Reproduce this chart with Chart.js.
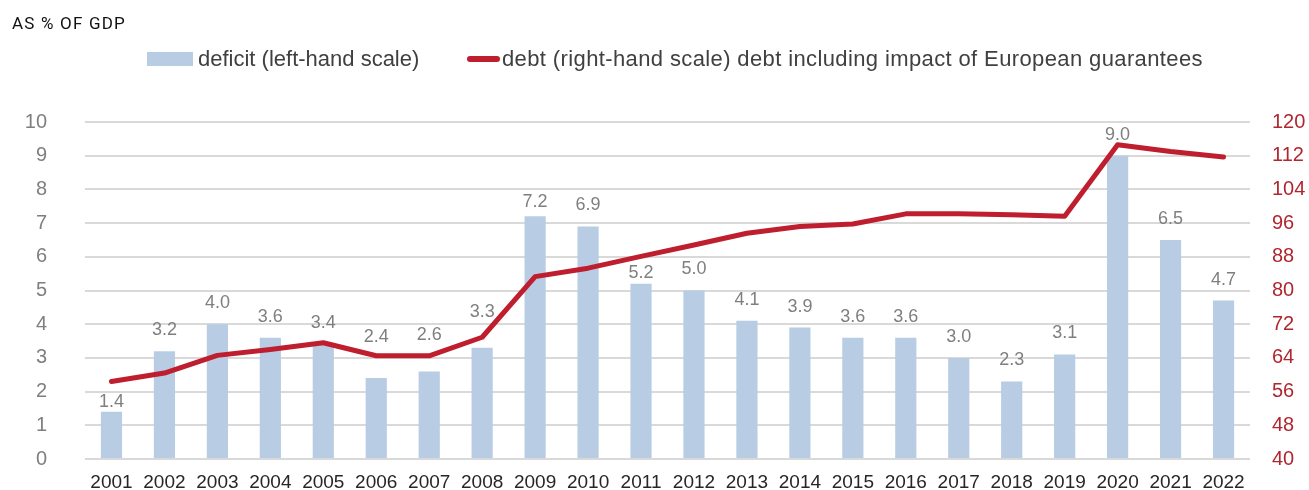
<!DOCTYPE html>
<html>
<head>
<meta charset="utf-8">
<script src="https://cdn.jsdelivr.net/npm/chart.js@4"></script>
<style>
  html, body { margin: 0; padding: 0; background: #fff; overflow: hidden; }
  #wrap { position: relative; width: 1309px; height: 490px; }
  #chart { display: block; position: absolute; left: 0; top: 0; }
  #title { position: absolute; left: 12px; top: 13px; font: 17px Roboto, sans-serif; color: #111; letter-spacing: 1.2px; z-index: 2; }
  .leg { position: absolute; top: 46px; font: 22px "Liberation Sans", Arial, sans-serif; color: #404040; white-space: nowrap; z-index: 2; }
  .leg span.box { display: inline-block; vertical-align: middle; }
</style>
</head>
<body>
<div id="wrap">
  <canvas id="chart" width="1309" height="490" style="width:1309px;height:490px"></canvas>
  <div id="title">AS % OF GDP</div>
  <div class="leg" style="left:147px"><span class="box" style="width:46px;height:14px;background:#b8cce4;margin-right:5px;margin-top:-3px"></span>deficit (left-hand scale)</div>
  <div class="leg" style="left:467px;letter-spacing:0.38px"><span class="box" style="width:33px;height:6px;border-radius:3px;background:#be1e2d;margin-right:2px;margin-top:-3px"></span>debt (right-hand scale) debt including impact of European guarantees</div>
</div>
<script>
// years on the x axis
var years = ['2001', '2002', '2003', '2004', '2005', '2006', '2007', '2008', '2009', '2010', '2011',
             '2012', '2013', '2014', '2015', '2016', '2017', '2018', '2019', '2020', '2021', '2022'];

// deficit, % of GDP (left axis)
var deficit = [1.4, 3.2, 4.0, 3.6, 3.4, 2.4, 2.6, 3.3, 7.2, 6.9, 5.2,
               5.0, 4.1, 3.9, 3.6, 3.6, 3.0, 2.3, 3.1, 9.0, 6.5, 4.7];

// debt incl. European guarantees, % of GDP (right axis)
var debt = [58.4, 60.4, 64.6, 66.0, 67.6, 64.5, 64.5, 68.9, 83.3, 85.3, 88.1,
            90.8, 93.6, 95.2, 95.8, 98.2, 98.2, 98.0, 97.6, 114.6, 113.0, 111.7];

var leftTicks = [0, 10, 1];
var rightTicks = [40, 120, 8];

// value labels sit 21px above the bar; a few were nudged by hand in the original
var labelNudge = { 0: 11, 5: -20, 6: -15, 7: -15, 8: 7, 10: 10 };

/**
 * Writes the deficit value above each bar.
 */
var barLabels = {
    id: 'barLabels',
    afterDatasetsDraw: function (chart) {
        var ctx = chart.ctx;
        var meta = chart.getDatasetMeta(1);
        ctx.save();
        ctx.font = '18px "Liberation Sans", Arial, sans-serif';
        ctx.fillStyle = '#7f7f7f';
        ctx.textAlign = 'center';
        ctx.textBaseline = 'middle';
        meta.data.forEach(function (bar, i) {
            var dy = -21 + (labelNudge[i] || 0);
            ctx.fillText(deficit[i].toFixed(1), bar.x, bar.y + dy);
        });
        ctx.restore();
    },
};

// fixed axis width; the tick padding must not push the plot area up
function fixWidth(w) {
    return function (s) {
        s.width = w;
        s.paddingTop = 0;
        s.paddingBottom = 0;
    };
}

var chart = new Chart(document.getElementById('chart'), {
    type: 'bar',
    data: {
        labels: years,
        datasets: [{
            type: 'line',
            label: 'debt',
            data: debt,
            yAxisID: 'y2',
            borderColor: '#be1e2d',
            borderWidth: 5,
            pointRadius: 0,
            tension: 0,
            borderCapStyle: 'round',
            borderJoinStyle: 'round',
            order: 0,
        }, {
            label: 'deficit',
            data: deficit,
            yAxisID: 'y',
            backgroundColor: '#b8cce4',
            categoryPercentage: 1.0,
            barPercentage: 0.4,
            order: 1,
        }],
    },
    plugins: [barLabels],
    options: {
        responsive: false,
        animation: false,
        layout: { padding: { top: 122, left: 0, right: 0, bottom: 0 } },
        plugins: {
            legend: { display: false },
            tooltip: { enabled: false },
        },
        scales: {
            x: {
                grid: { display: false, drawTicks: false },
                border: { display: false },
                ticks: {
                    color: '#262626',
                    padding: 12,
                    font: { family: '"Liberation Sans", Arial, sans-serif', size: 19 },
                },
                afterFit: function (s) { s.height = 31; },
            },
            y: {
                position: 'left',
                min: leftTicks[0],
                max: leftTicks[1],
                ticks: {
                    stepSize: leftTicks[2],
                    color: '#7f7f7f',
                    padding: 38,
                    font: { family: '"Liberation Sans", Arial, sans-serif', size: 20 },
                },
                grid: { color: '#d9d9d9', lineWidth: 2, drawTicks: false },
                border: { display: false },
                afterFit: fixWidth(85),
            },
            y2: {
                position: 'right',
                min: rightTicks[0],
                max: rightTicks[1],
                ticks: {
                    stepSize: rightTicks[2],
                    color: '#b0272f',
                    padding: 22,
                    font: { family: '"Liberation Sans", Arial, sans-serif', size: 20 },
                },
                grid: { display: false, drawTicks: false },
                border: { display: false },
                afterFit: fixWidth(59),
            },
        },
    },
});
</script>
</body>
</html>
